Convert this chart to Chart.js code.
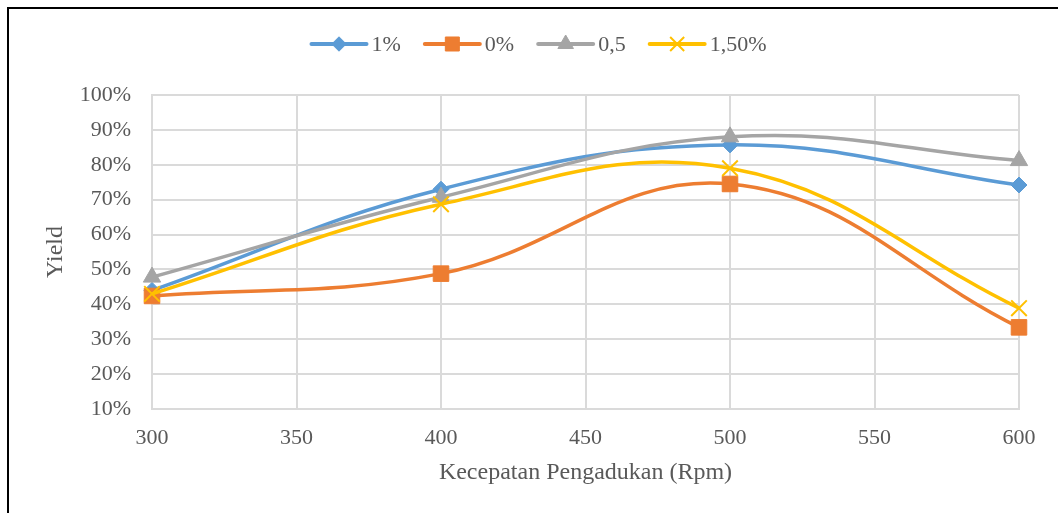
<!DOCTYPE html>
<html>
<head>
<meta charset="utf-8">
<script src="https://cdn.jsdelivr.net/npm/chart.js@4/dist/chart.umd.min.js"></script>
<style>
  html, body { margin: 0; padding: 0; background: #ffffff; }
  canvas { display: block; }
</style>
</head>
<body>
<canvas id="yieldChart" width="1058" height="513"></canvas>
<script>
// Stirring speed (rpm) and measured yield (%) for each catalyst loading
const speeds = [300, 400, 500, 600];
const yield1 = [44.0, 73.0, 85.7, 74.2];    // 1%
const yield0 = [42.4, 48.8, 74.5, 33.4];    // 0%
const yield05 = [47.8, 70.7, 88.0, 81.2];   // 0,5
const yield15 = [43.0, 68.7, 79.0, 38.9];   // 1,50%

const seriesNames = ['1%', '0%', '0,5', '1,50%'];
const xTicks = [300, 350, 400, 450, 500, 550, 600];
const yTicks = [10, 20, 30, 40, 50, 60, 70, 80, 90, 100];

const FONT = "'Liberation Serif', 'Times New Roman', serif";
const TEXT = '#595959';
const GRID = '#DADADA';

const styles = [
  { color: '#5B9BD5', pointStyle: 'rectRot', radius: 8, bw: 1 },
  { color: '#ED7D31', pointStyle: 'rect', radius: 11, bw: 1 },
  { color: '#A5A5A5', pointStyle: 'triangle', radius: 10, bw: 1 },
  { color: '#FFC000', pointStyle: 'crossRot', radius: 11, bw: 2 }
];

function toPoints(values) {
  return speeds.map((s, i) => ({ x: s, y: values[i] }));
}

const seriesValues = [yield1, yield0, yield05, yield15];

const datasets = seriesValues.map((vals, i) => ({
  label: seriesNames[i],
  data: toPoints(vals),
  borderColor: styles[i].color,
  backgroundColor: styles[i].color,
  borderWidth: 3.5,
  tension: 0.4,
  pointStyle: styles[i].pointStyle,
  pointRadius: styles[i].radius,
  pointHoverRadius: styles[i].radius,
  pointBackgroundColor: styles[i].color,
  pointBorderColor: styles[i].color,
  pointBorderWidth: styles[i].bw,
  order: seriesValues.length - i,
  clip: false
}));

// Frame lines along the top and left edges
const framePlugin = {
  id: 'frame',
  afterDraw(chart) {
    const ctx = chart.ctx;
    ctx.save();
    ctx.fillStyle = '#000000';
    ctx.fillRect(7, 7, chart.width - 7, 2);
    ctx.fillRect(7, 7, 2, chart.height - 7);
    ctx.restore();
  }
};

// Legend: short line with the series marker in the middle, then the name
const lineLegendPlugin = {
  id: 'lineLegend',
  afterDraw(chart) {
    const ctx = chart.ctx;
    const lineLen = 55, gapText = 5, gapItem = 24, cy = 44;
    ctx.save();
    ctx.font = '22px ' + FONT;
    ctx.textBaseline = 'middle';
    const widths = seriesNames.map(n => ctx.measureText(n).width);
    let total = 0;
    widths.forEach((w, i) => { total += lineLen + gapText + w + (i < widths.length - 1 ? gapItem : 0); });
    let x = 539 - total / 2;
    seriesNames.forEach((name, i) => {
      const st = styles[i];
      ctx.strokeStyle = st.color;
      ctx.fillStyle = st.color;
      ctx.lineWidth = 4;
      ctx.lineCap = 'round';
      ctx.beginPath();
      ctx.moveTo(x, cy);
      ctx.lineTo(x + lineLen, cy);
      ctx.stroke();
      ctx.lineCap = 'butt';
      ctx.lineWidth = st.bw;
      Chart.helpers.drawPoint(ctx, {
        pointStyle: st.pointStyle,
        radius: st.radius * 0.9,
        rotation: 0,
        borderWidth: st.bw
      }, x + lineLen / 2, cy);
      ctx.fillStyle = TEXT;
      ctx.textAlign = 'left';
      ctx.fillText(name, x + lineLen + gapText, cy + 1);
      x += lineLen + gapText + widths[i] + gapItem;
    });
    ctx.restore();
  }
};

new Chart(document.getElementById('yieldChart'), {
  type: 'line',
  data: { datasets },
  plugins: [framePlugin, lineLegendPlugin],
  options: {
    responsive: false,
    animation: false,
    layout: { padding: { top: 95, right: 39, bottom: 0, left: 0 } },
    plugins: {
      legend: { display: false },
      tooltip: { enabled: false }
    },
    scales: {
      x: {
        type: 'linear',
        min: 300,
        max: 600,
        afterBuildTicks(scale) { scale.ticks = xTicks.map(v => ({ value: v })); },
        afterFit(scale) { scale.height = 104; },
        grid: { color: GRID, lineWidth: 2, drawTicks: false },
        border: { color: GRID, width: 2 },
        ticks: {
          color: TEXT,
          font: { family: FONT, size: 22 },
          padding: 16,
          maxRotation: 0,
          callback: v => String(v)
        },
        title: {
          display: true,
          text: 'Kecepatan Pengadukan (Rpm)',
          color: TEXT,
          font: { family: FONT, size: 24 },
          padding: { top: 0, bottom: 26 }
        }
      },
      y: {
        type: 'linear',
        min: 10,
        max: 100,
        afterBuildTicks(scale) { scale.ticks = yTicks.map(v => ({ value: v })); },
        afterFit(scale) { scale.width = 152; },
        grid: { color: GRID, lineWidth: 2, drawTicks: false },
        border: { color: GRID, width: 2 },
        ticks: {
          color: TEXT,
          font: { family: FONT, size: 22 },
          padding: 21,
          callback: v => v + '%'
        },
        title: {
          display: true,
          text: 'Yield',
          color: TEXT,
          font: { family: FONT, size: 24 },
          padding: { top: 41, bottom: 0 }
        }
      }
    }
  }
});
</script>
</body>
</html>
